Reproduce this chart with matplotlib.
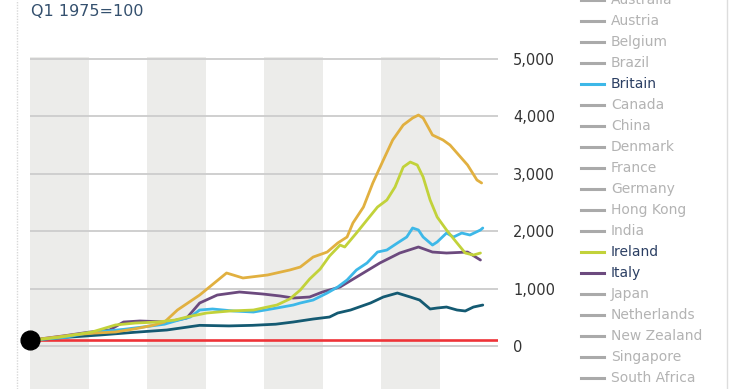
import matplotlib
matplotlib.use("Agg")
import matplotlib.pyplot as plt
from matplotlib.lines import Line2D

# ---------------- data ----------------
gold_years = [1975.0, 1977.0, 1979.0, 1980.5, 1982.3, 1984.0, 1985.5, 1986.5, 1987.6, 1989.5, 1991.8,
              1993.2, 1995.3, 1997.2, 1998.1, 1999.2, 2000.4, 2001.3, 2002.1, 2002.6, 2003.5,
              2004.3, 2005.2, 2006.0, 2006.9, 2007.7, 2008.2, 2008.6, 2009.4, 2010.3, 2010.9,
              2011.8, 2012.4, 2013.2, 2013.6]
gold_values = [100, 150, 200, 225, 244, 300, 360, 418, 627, 888, 1272,
               1185, 1237, 1324, 1376, 1550, 1637, 1794, 1899, 2143, 2421,
               2839, 3240, 3589, 3850, 3972, 4024, 3972, 3676, 3589, 3501,
               3292, 3153, 2892, 2840]

ireland_years = [1975.0, 1977.4, 1980.3, 1982.3, 1984.0, 1985.9, 1987.4, 1988.4, 1990.1, 1992.1,
                 1994.1, 1996.1, 1997.2, 1998.1, 1998.9, 1999.8, 2000.6, 2001.5, 2001.9,
                 2002.9, 2003.8, 2004.7, 2005.5, 2006.2, 2006.9, 2007.5, 2008.1, 2008.6,
                 2009.2, 2009.8, 2010.6, 2011.5, 2012.2, 2012.9, 2013.5]
ireland_values = [100, 150, 244, 366, 400, 418, 453, 505, 575, 610,
                  627, 714, 819, 975, 1167, 1341, 1568, 1759, 1725,
                  1968, 2195, 2421, 2543, 2770, 3118, 3205, 3153, 2944,
                  2543, 2247, 2021, 1794, 1620, 1585, 1620]

britain_years = [1975.0, 1978.0, 1980.0, 1983.0, 1985.0, 1986.5, 1987.5, 1988.7, 1989.5, 1990.6,
                 1992.4, 1994.1, 1996.1, 1997.5, 1998.1, 1999.2, 2000.4, 2001.3, 2002.1,
                 2002.9, 2003.8, 2004.7, 2005.5, 2006.4, 2007.2, 2007.7, 2008.2, 2008.6,
                 2009.4, 2009.8, 2010.6, 2011.2, 2011.9, 2012.6, 2013.5, 2013.7]
britain_values = [100, 150, 230, 290, 340, 380, 440, 505, 627, 645,
                  610, 592, 662, 714, 749, 801, 923, 1028, 1150,
                  1324, 1446, 1637, 1672, 1794, 1899, 2056, 2021, 1899,
                  1759, 1812, 1968, 1899, 1968, 1934, 2021, 2056]

italy_years = [1975.0, 1978.0, 1980.0, 1981.8, 1983.0, 1984.4, 1986.7, 1988.4, 1989.5, 1991.0,
               1992.9, 1994.9, 1996.4, 1997.5, 1998.9, 2000.0, 2001.5, 2003.2, 2004.9,
               2006.6, 2008.2, 2009.4, 2010.6, 2012.4, 2013.5]
italy_values = [100, 180, 240, 279, 418, 436, 418, 488, 749, 888,
                941, 906, 871, 836, 854, 941, 1028, 1237, 1446,
                1620, 1725, 1637, 1620, 1637, 1498]

teal_years = [1975.0, 1978.0, 1981.0, 1984.0, 1986.7, 1989.5, 1992.0, 1994.0, 1996.0, 1997.5,
              1999.2, 2000.6, 2001.3, 2002.4, 2004.1, 2005.2, 2006.4, 2007.5, 2008.3,
              2009.2, 2009.8, 2010.6, 2011.5, 2012.2, 2012.9, 2013.7]
teal_values = [100, 150, 192, 240, 279, 360, 350, 360, 380, 418,
               470, 505, 575, 627, 749, 854, 923, 854, 801,
               645, 662, 679, 627, 610, 679, 714]

legend_countries = ["Australia", "Austria", "Belgium", "Brazil", "Britain", "Canada", "China",
                    "Denmark", "France", "Germany", "Hong Kong", "India", "Ireland", "Italy",
                    "Japan", "Netherlands", "New Zealand", "Singapore", "South Africa"]
highlight = {"Britain": "#3db8e8", "Ireland": "#c2d23a", "Italy": "#6c4a7e"}

y_ticks = [0, 1000, 2000, 3000, 4000, 5000]
y_tick_labels = ["0", "1,000", "2,000", "3,000", "4,000", "5,000"]
shaded_spans = [(1975, 1980), (1985, 1990), (1995, 2000), (2005, 2010)]
base_value = 100

# ---------------- figure ----------------
W, H = 740, 389
fig = plt.figure(figsize=(W / 100, H / 100), dpi=100)
fig.patch.set_facecolor("white")

ax = fig.add_axes([30 / W, 0, 468 / W, 332 / H])
ax.set_xlim(1975, 2015)
ax.set_ylim(-749, 5035)
ax.set_facecolor("white")
for s in ax.spines.values():
    s.set_visible(False)

for a, b in shaded_spans:
    ax.axvspan(a, b, color="#ececea", lw=0, zorder=0)

for t in y_ticks:
    ax.axhline(t, color="#cfcfcf", lw=1.4, zorder=1)

ax.set_xticks([])
ax.yaxis.tick_right()
ax.set_yticks(y_ticks)
ax.set_yticklabels(y_tick_labels)
ax.tick_params(axis="y", length=0, pad=11, labelsize=10.5, labelcolor="#333333")

ax.axhline(base_value, color="#ee3338", lw=1.9, zorder=2)

lw = 2.0
ax.plot(teal_years, teal_values, color="#145a72", lw=lw, zorder=3, solid_capstyle="round")
ax.plot(italy_years, italy_values, color=highlight["Italy"], lw=lw, zorder=4, solid_capstyle="round")
ax.plot(britain_years, britain_values, color=highlight["Britain"], lw=lw, zorder=5, solid_capstyle="round")
ax.plot(gold_years, gold_values, color="#e1b040", lw=lw, zorder=6, solid_capstyle="round")
ax.plot(ireland_years, ireland_values, color=highlight["Ireland"], lw=lw, zorder=7, solid_capstyle="round")

ax.plot([gold_years[0]], [base_value], "o", color="black", ms=13.5, zorder=10, clip_on=False)

# subtitle
fig.text(31 / W, 1 - 12 / H, "Q1 1975=100", fontsize=11.5, color="#34506e",
         ha="left", va="center")

# left dotted rule and right border
fig.add_artist(Line2D([17 / W, 17 / W], [0, 1], color="#d8d8d8", lw=1, ls=(0, (1, 1))))
fig.add_artist(Line2D([727 / W, 727 / W], [0, 1], color="#dddddd", lw=1))

# legend
for i, name in enumerate(legend_countries):
    yc = 1 - (0 + 21 * i) / H
    col = highlight.get(name, "#aaaaaa")
    tcol = "#2b3f63" if name in highlight else "#b3b3b3"
    fig.add_artist(Line2D([581 / W, 604 / W], [yc, yc], color=col, lw=2.2))
    fig.text(611 / W, yc, name, fontsize=10, color=tcol, ha="left", va="center")

fig.savefig("out.png", dpi=100, facecolor="white")
